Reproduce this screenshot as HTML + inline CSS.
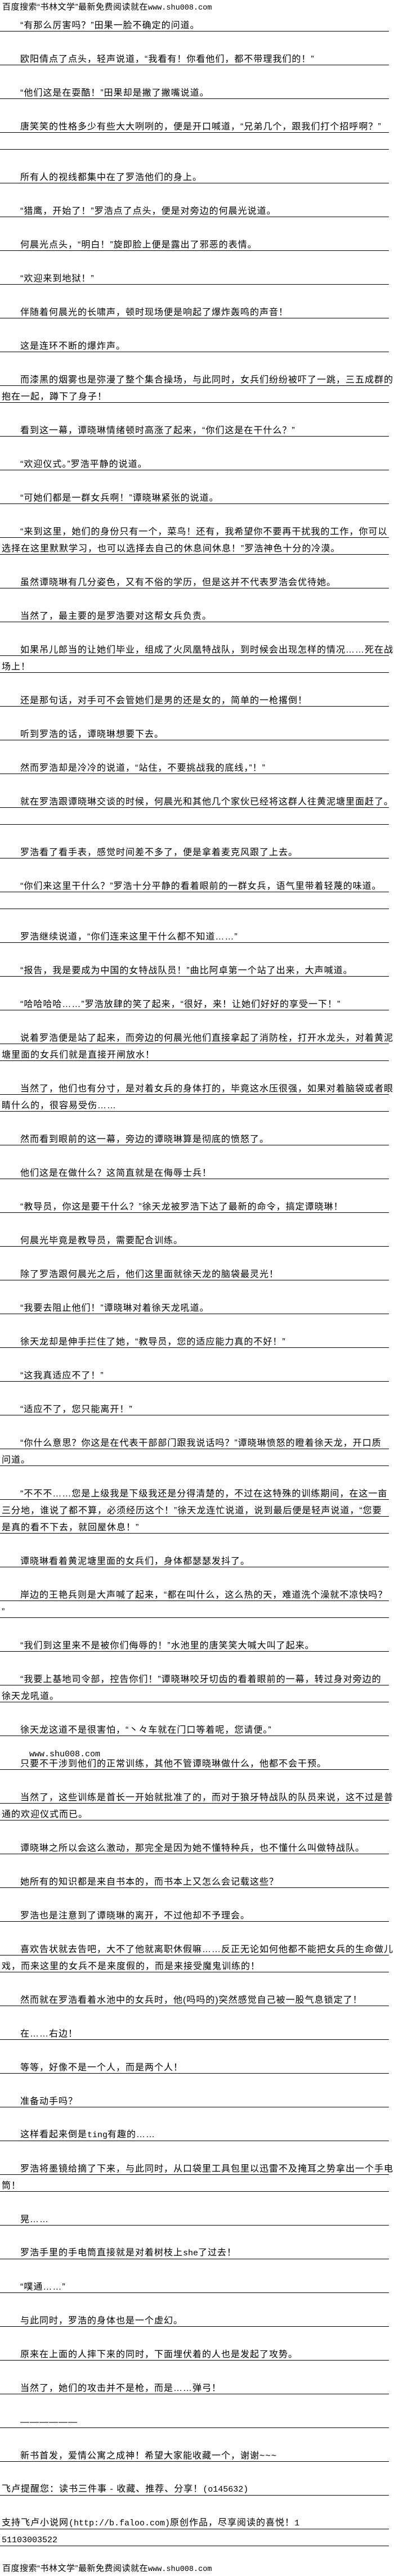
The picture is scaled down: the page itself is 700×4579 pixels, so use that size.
<!DOCTYPE html>
<html><head><meta charset="utf-8">
<style>
html,body{margin:0;padding:0;background:#fff;}
body{width:700px;height:4579px;position:relative;overflow:hidden;
font-family:"Liberation Sans","Noto Sans CJK SC",sans-serif;color:#000;}
.r{position:absolute;left:0;width:691px;height:29px;border-bottom:1px solid #000;
box-sizing:content-box;white-space:nowrap;font-size:16px;letter-spacing:1px;line-height:16px;}
.r span.t{position:absolute;bottom:1px;left:36px;}
.r.n span.t{left:3px;}
.m{font-family:"Liberation Mono",monospace;letter-spacing:0;font-size:15px;}
.h{position:absolute;left:4px;white-space:nowrap;font-size:15px;letter-spacing:0.5px;line-height:16px;}
.h .m{font-size:13.5px;}
</style></head><body>
<div class="h" style="top:5px">百度搜索“书林文学”最新免费阅读就在<span class="m">www.shu008.com</span></div>

<div class="r" style="top:26px"><span class="t">“有那么厉害吗？”田果一脸不确定的问道。</span></div>
<div class="r" style="top:86px"><span class="t">欧阳倩点了点头，轻声说道，“我看有！你看他们，都不带理我们的！”</span></div>
<div class="r" style="top:146px"><span class="t">“他们这是在耍酷！”田果却是撇了撇嘴说道。</span></div>
<div class="r" style="top:206px"><span class="t">唐笑笑的性格多少有些大大咧咧的，便是开口喊道，“兄弟几个，跟我们打个招呼啊？”</span></div>
<div class="r" style="top:236px"></div>
<div class="r" style="top:296px"><span class="t">所有人的视线都集中在了罗浩他们的身上。</span></div>
<div class="r" style="top:356px"><span class="t">“猎鹰，开始了！”罗浩点了点头，便是对旁边的何晨光说道。</span></div>
<div class="r" style="top:416px"><span class="t">何晨光点头，“明白！”旋即脸上便是露出了邪恶的表情。</span></div>
<div class="r" style="top:476px"><span class="t">“欢迎来到地狱！”</span></div>
<div class="r" style="top:536px"><span class="t">伴随着何晨光的长啸声，顿时现场便是响起了爆炸轰鸣的声音！</span></div>
<div class="r" style="top:596px"><span class="t">这是连环不断的爆炸声。</span></div>
<div class="r" style="top:656px"><span class="t">而漆黑的烟雾也是弥漫了整个集合操场，与此同时，女兵们纷纷被吓了一跳，三五成群的</span></div>
<div class="r n" style="top:686px"><span class="t">抱在一起，蹲下了身子！</span></div>
<div class="r" style="top:746px"><span class="t">看到这一幕，谭晓琳情绪顿时高涨了起来，“你们这是在干什么？”</span></div>
<div class="r" style="top:806px"><span class="t">“欢迎仪式。”罗浩平静的说道。</span></div>
<div class="r" style="top:866px"><span class="t">“可她们都是一群女兵啊！”谭晓琳紧张的说道。</span></div>
<div class="r" style="top:926px"><span class="t">“来到这里，她们的身份只有一个，菜鸟！还有，我希望你不要再干扰我的工作，你可以</span></div>
<div class="r n" style="top:956px"><span class="t">选择在这里默默学习，也可以选择去自己的休息间休息！”罗浩神色十分的冷漠。</span></div>
<div class="r" style="top:1016px"><span class="t">虽然谭晓琳有几分姿色，又有不俗的学历，但是这并不代表罗浩会优待她。</span></div>
<div class="r" style="top:1076px"><span class="t">当然了，最主要的是罗浩要对这帮女兵负责。</span></div>
<div class="r" style="top:1136px"><span class="t">如果吊儿郎当的让她们毕业，组成了火凤凰特战队，到时候会出现怎样的情况……死在战</span></div>
<div class="r n" style="top:1166px"><span class="t">场上！</span></div>
<div class="r" style="top:1226px"><span class="t">还是那句话，对手可不会管她们是男的还是女的，简单的一枪撂倒！</span></div>
<div class="r" style="top:1286px"><span class="t">听到罗浩的话，谭晓琳想要下去。</span></div>
<div class="r" style="top:1346px"><span class="t">然而罗浩却是冷冷的说道，“站住，不要挑战我的底线，”！”</span></div>
<div class="r" style="top:1406px"><span class="t">就在罗浩跟谭晓琳交谈的时候，何晨光和其他几个家伙已经将这群人往黄泥塘里面赶了。</span></div>
<div class="r" style="top:1436px"></div>
<div class="r" style="top:1496px"><span class="t">罗浩看了看手表，感觉时间差不多了，便是拿着麦克风跟了上去。</span></div>
<div class="r" style="top:1556px"><span class="t">“你们来这里干什么？”罗浩十分平静的看着眼前的一群女兵，语气里带着轻蔑的味道。</span></div>
<div class="r" style="top:1586px"></div>
<div class="r" style="top:1646px"><span class="t">罗浩继续说道，“你们连来这里干什么都不知道……”</span></div>
<div class="r" style="top:1706px"><span class="t">“报告，我是要成为中国的女特战队员！”曲比阿卓第一个站了出来，大声喊道。</span></div>
<div class="r" style="top:1766px"><span class="t">“哈哈哈哈……”罗浩放肆的笑了起来，“很好，来！让她们好好的享受一下！”</span></div>
<div class="r" style="top:1826px"><span class="t">说着罗浩便是站了起来，而旁边的何晨光他们直接拿起了消防栓，打开水龙头，对着黄泥</span></div>
<div class="r n" style="top:1856px"><span class="t">塘里面的女兵们就是直接开闸放水！</span></div>
<div class="r" style="top:1916px"><span class="t">当然了，他们也有分寸，是对着女兵的身体打的，毕竟这水压很强，如果对着脑袋或者眼</span></div>
<div class="r n" style="top:1946px"><span class="t">睛什么的，很容易受伤……</span></div>
<div class="r" style="top:2006px"><span class="t">然而看到眼前的这一幕，旁边的谭晓琳算是彻底的愤怒了。</span></div>
<div class="r" style="top:2066px"><span class="t">他们这是在做什么？这简直就是在侮辱士兵！</span></div>
<div class="r" style="top:2126px"><span class="t">“教导员，你这是要干什么？”徐天龙被罗浩下达了最新的命令，搞定谭晓琳！</span></div>
<div class="r" style="top:2186px"><span class="t">何晨光毕竟是教导员，需要配合训练。</span></div>
<div class="r" style="top:2246px"><span class="t">除了罗浩跟何晨光之后，他们这里面就徐天龙的脑袋最灵光！</span></div>
<div class="r" style="top:2306px"><span class="t">“我要去阻止他们！”谭晓琳对着徐天龙吼道。</span></div>
<div class="r" style="top:2366px"><span class="t">徐天龙却是伸手拦住了她，“教导员，您的适应能力真的不好！”</span></div>
<div class="r" style="top:2426px"><span class="t">“这我真适应不了！”</span></div>
<div class="r" style="top:2486px"><span class="t">“适应不了，您只能离开！”</span></div>
<div class="r" style="top:2546px"><span class="t">“你什么意思？你这是在代表干部部门跟我说话吗？”谭晓琳愤怒的瞪着徐天龙，开口质</span></div>
<div class="r n" style="top:2576px"><span class="t">问道。</span></div>
<div class="r" style="top:2636px"><span class="t">“不不不……您是上级我是下级我还是分得清楚的，不过在这特殊的训练期间，在这一亩</span></div>
<div class="r n" style="top:2666px"><span class="t">三分地，谁说了都不算，必须经历这个！”徐天龙连忙说道，说到最后便是轻声说道，“您要</span></div>
<div class="r n" style="top:2696px"><span class="t">是真的看不下去，就回屋休息！”</span></div>
<div class="r" style="top:2756px"><span class="t">谭晓琳看着黄泥塘里面的女兵们，身体都瑟瑟发抖了。</span></div>
<div class="r" style="top:2816px"><span class="t">岸边的王艳兵则是大声喊了起来，“都在叫什么，这么热的天，难道洗个澡就不凉快吗？</span></div>
<div class="r n" style="top:2846px"><span class="t">”</span></div>
<div class="r" style="top:2906px"><span class="t">“我们到这里来不是被你们侮辱的！”水池里的唐笑笑大喊大叫了起来。</span></div>
<div class="r" style="top:2966px"><span class="t">“我要上基地司令部，控告你们！”谭晓琳咬牙切齿的看着眼前的一幕，转过身对旁边的</span></div>
<div class="r n" style="top:2996px"><span class="t">徐天龙吼道。</span></div>
<div class="r" style="top:3056px"><span class="t">徐天龙这道不是很害怕，“丶々车就在门口等着呢，您请便。”</span></div>
<div class="h" style="top:3110px;left:52px"><span class="m" style="font-size:15px">www.shu008.com</span></div>
<div class="r" style="top:3116px"><span class="t">只要不干涉到他们的正常训练，其他不管谭晓琳做什么，他都不会干预。</span></div>
<div class="r" style="top:3176px"><span class="t">当然了，这些训练是首长一开始就批准了的，而对于狼牙特战队的队员来说，这不过是普</span></div>
<div class="r n" style="top:3206px"><span class="t">通的欢迎仪式而已。</span></div>
<div class="r" style="top:3266px"><span class="t">谭晓琳之所以会这么激动，那完全是因为她不懂特种兵，也不懂什么叫做特战队。</span></div>
<div class="r" style="top:3326px"><span class="t">她所有的知识都是来自书本的，而书本上又怎么会记载这些？</span></div>
<div class="r" style="top:3386px"><span class="t">罗浩也是注意到了谭晓琳的离开，不过他却不予理会。</span></div>
<div class="r" style="top:3446px"><span class="t">喜欢告状就去告吧，大不了他就离职休假嘛……反正无论如何他都不能把女兵的生命做儿</span></div>
<div class="r n" style="top:3476px"><span class="t">戏，而来这里的女兵不是来度假的，而是来接受魔鬼训练的！</span></div>
<div class="r" style="top:3536px"><span class="t">然而就在罗浩看着水池中的女兵时，他(吗吗的)突然感觉自己被一股气息锁定了！</span></div>
<div class="r" style="top:3596px"><span class="t">在……右边！</span></div>
<div class="r" style="top:3656px"><span class="t">等等，好像不是一个人，而是两个人！</span></div>
<div class="r" style="top:3716px"><span class="t">准备动手吗？</span></div>
<div class="r" style="top:3776px"><span class="t">这样看起来倒是<span class="m">ting</span>有趣的……</span></div>
<div class="r" style="top:3836px"><span class="t">罗浩将墨镜给摘了下来，与此同时，从口袋里工具包里以迅雷不及掩耳之势拿出一个手电</span></div>
<div class="r n" style="top:3866px"><span class="t">筒！</span></div>
<div class="r" style="top:3926px"><span class="t">晃……</span></div>
<div class="r" style="top:3986px"><span class="t">罗浩手里的手电筒直接就是对着树枝上<span class="m">she</span>了过去！</span></div>
<div class="r" style="top:4046px"><span class="t">“噗通……”</span></div>
<div class="r" style="top:4106px"><span class="t">与此同时，罗浩的身体也是一个虚幻。</span></div>
<div class="r" style="top:4166px"><span class="t">原来在上面的人摔下来的同时，下面埋伏着的人也是发起了攻势。</span></div>
<div class="r" style="top:4226px"><span class="t">当然了，她们的攻击并不是枪，而是……弹弓！</span></div>
<div class="r" style="top:4286px"><span class="t">——————</span></div>
<div class="r" style="top:4346px"><span class="t">新书首发，爱情公寓之成神！希望大家能收藏一个，谢谢~~~</span></div>
<div class="r n" style="top:4406px"><span class="t">飞卢提醒您：读书三件事 - 收藏、推荐、分享！<span class="m">(o145632)</span></span></div>
<div class="r n" style="top:4466px"><span class="t">支持飞卢小说网<span class="m">(http://b.faloo.com)</span>原创作品，尽享阅读的喜悦！<span class="m">1</span></span></div>
<div class="r n" style="top:4496px"><span class="t"><span class="m">51103003522</span></span></div>

<div class="h" style="top:4558px">百度搜索“书林文学”最新免费阅读就在<span class="m">www.shu008.com</span></div>
</body></html>
